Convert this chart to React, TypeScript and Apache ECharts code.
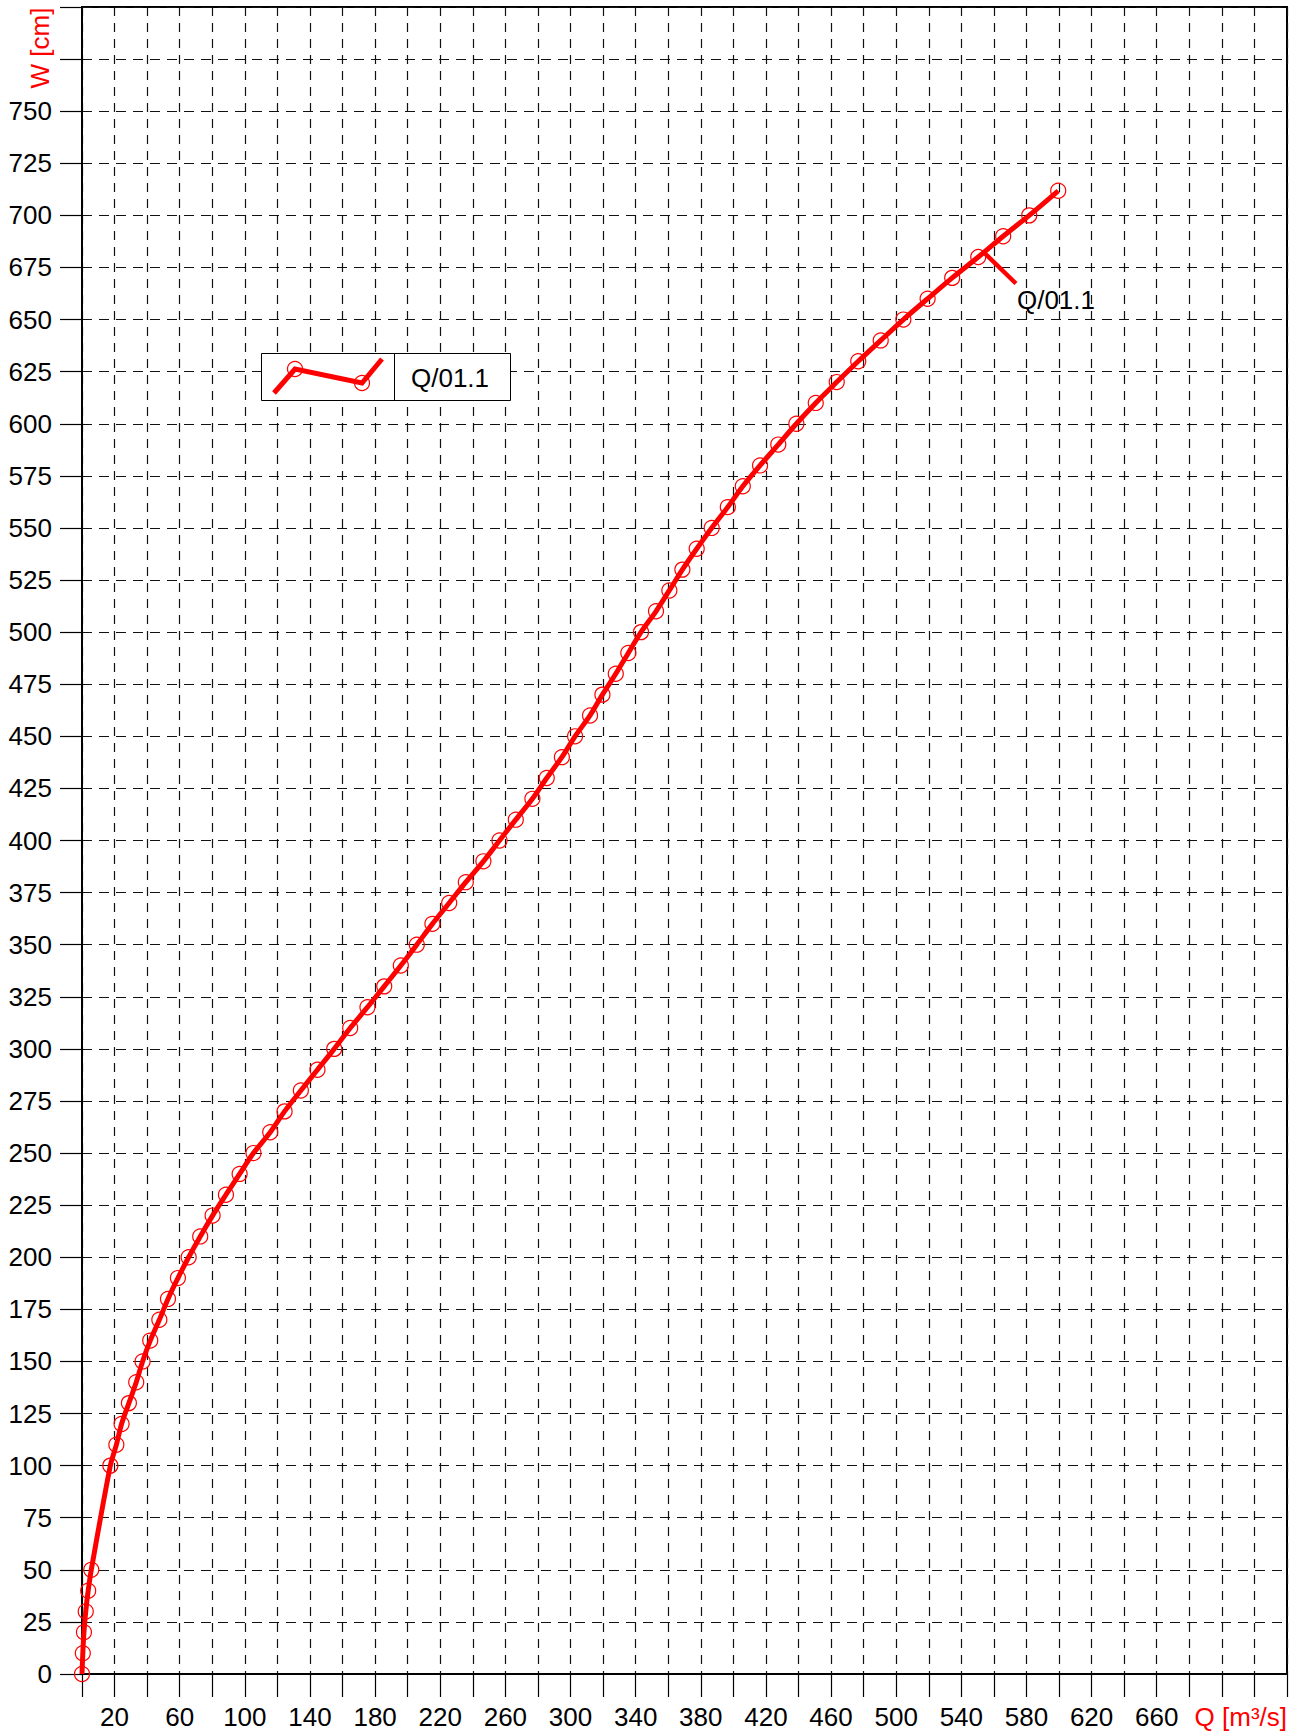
import React, { useEffect, useRef } from "react";
import * as echarts from "echarts";

// Rating curve Q/01.1 : discharge Q [m³/s] vs water level W [cm]
const seriesName = "Q/01.1";
const qValues = [
  0, 0.5, 1.2, 2.3, 3.8, 5.7,
  17.4, 21.1, 24.3, 28.8, 33.3, 37.2, 41.9, 47.5, 52.8, 58.9,
  65.5, 72.6, 80.2, 88.4, 96.8, 105.3, 115.6, 124.4, 134.4, 144.6,
  154.9, 164.7, 175.3, 185.6, 195.8, 205.6, 215.2, 225.5, 235.7, 246.5,
  256.4, 266.4, 276.6, 285.4, 294.7, 302.8, 312.0, 319.6, 327.8, 335.5,
  343.3, 352.5, 360.7, 368.7, 377.5, 386.7, 396.6, 405.8, 416.4, 427.6,
  438.7, 450.6, 463.5, 476.7, 490.5, 504.4, 519.3, 534.4, 550.4, 565.7,
  581.7, 599.5,
];
const wValues = [
  0, 10, 20, 30, 40, 50,
  100, 110, 120, 130, 140, 150, 160, 170, 180, 190,
  200, 210, 220, 230, 240, 250, 260, 270, 280, 290,
  300, 310, 320, 330, 340, 350, 360, 370, 380, 390,
  400, 410, 420, 430, 440, 450, 460, 470, 480, 490,
  500, 510, 520, 530, 540, 550, 560, 570, 580, 590,
  600, 610, 620, 630, 640, 650, 660, 670, 680, 690,
  700, 711.8,
];
// point on the curve where the annotation leader starts
const annotationQ = 554.5;
const annotationW = 681.7;

const xAxisName = "Q [m³/s]";
const yAxisName = "W [cm]";
const xMin = 0, xMax = 740, xStep = 20;
const yMin = 0, yMax = 800, yStep = 25;
const xLabelLast = 660;
const yLabelLast = 750;

const FONT = "'Liberation Sans', Arial, Helvetica, sans-serif";
const RED = "#ff0000";
const GRID_COLOR = "#111";

export default function App() {
  const ref = useRef<HTMLDivElement>(null);
  useEffect(() => {
    if (!ref.current) return;
    const chart = echarts.init(ref.current, null, { renderer: "svg" });
    const data = qValues.map((q, i) => [q, wValues[i]]);
    chart.setOption({
      animation: false,
      backgroundColor: "#fff",
      grid: {
        left: 82,
        top: 7,
        right: 15,
        bottom: 61,
        show: true,
        borderColor: "#000",
        borderWidth: 2,
        backgroundColor: "transparent",
      },
      xAxis: {
        type: "value",
        min: xMin,
        max: xMax,
        interval: xStep,
        axisLine: { show: true, lineStyle: { color: "#000", width: 2 } },
        axisTick: { show: true, length: 23, lineStyle: { color: "#000", width: 1.2 } },
        axisLabel: {
          margin: 30,
          color: "#000",
          fontSize: 26,
          fontFamily: FONT,
          formatter: (v: number) =>
            v % 40 === 20 && v <= xLabelLast ? String(v) : "",
        },
        splitLine: {
          show: true,
          lineStyle: { color: GRID_COLOR, width: 1.2, type: [9, 7] },
        },
      },
      yAxis: {
        type: "value",
        min: yMin,
        max: yMax,
        interval: yStep,
        axisLine: { show: true, lineStyle: { color: "#000", width: 2 } },
        axisTick: { show: true, length: 22, lineStyle: { color: "#000", width: 1.2 } },
        axisLabel: {
          margin: 30,
          color: "#000",
          fontSize: 26,
          fontFamily: FONT,
          formatter: (v: number) => (v <= yLabelLast ? String(v) : ""),
        },
        splitLine: {
          show: true,
          lineStyle: { color: GRID_COLOR, width: 1.2, type: [10, 7] },
        },
      },
      series: [
        {
          name: seriesName,
          type: "line",
          data,
          smooth: 0.3,
          symbol: "circle",
          symbolSize: 15,
          lineStyle: { color: RED, width: 5 },
          itemStyle: { color: "rgba(0,0,0,0)", borderColor: RED, borderWidth: 1.2 },
          z: 5,
        },
      ],
    });

    const p = chart.convertToPixel({ gridIndex: 0 }, [annotationQ, annotationW]) as number[];
    const axisY = chart.convertToPixel({ gridIndex: 0 }, [xMin, yMin]) as number[];
    const axisEnd = chart.convertToPixel({ gridIndex: 0 }, [xMax, yMax]) as number[];

    chart.setOption({
      graphic: [
        // y axis name
        {
          type: "text",
          x: 40,
          y: 48,
          rotation: Math.PI / 2,
          style: {
            text: yAxisName,
            fill: RED,
            font: `26px ${FONT}`,
            align: "center",
            verticalAlign: "middle",
          },
        },
        // x axis name
        {
          type: "text",
          x: axisEnd[0],
          y: axisY[1] + 30,
          style: {
            text: xAxisName,
            fill: RED,
            font: `26px ${FONT}`,
            align: "right",
            verticalAlign: "top",
          },
        },
        // legend box
        {
          type: "rect",
          shape: { x: 261.5, y: 353.5, width: 249, height: 47 },
          style: { fill: "#fff", stroke: "#000", lineWidth: 1 },
          z: 100,
        },
        {
          type: "line",
          shape: { x1: 394.5, y1: 353.5, x2: 394.5, y2: 400.5 },
          style: { stroke: "#000", lineWidth: 1 },
          z: 101,
        },
        {
          type: "polyline",
          shape: { points: [[274, 393], [295, 369], [362, 383], [382, 359]] },
          style: { stroke: RED, lineWidth: 5, fill: null },
          z: 101,
        },
        {
          type: "circle",
          shape: { cx: 295, cy: 369, r: 7.5 },
          style: { stroke: RED, lineWidth: 1.2, fill: null },
          z: 102,
        },
        {
          type: "circle",
          shape: { cx: 362, cy: 383, r: 7.5 },
          style: { stroke: RED, lineWidth: 1.2, fill: null },
          z: 102,
        },
        {
          type: "text",
          x: 411,
          y: 378,
          style: {
            text: seriesName,
            fill: "#000",
            font: `26px ${FONT}`,
            align: "left",
            verticalAlign: "middle",
          },
          z: 102,
        },
        // annotation leader + label
        {
          type: "line",
          shape: { x1: p[0], y1: p[1], x2: p[0] + 31, y2: p[1] + 30 },
          style: { stroke: RED, lineWidth: 4.5 },
          z: 50,
        },
        {
          type: "text",
          x: p[0] + 32,
          y: p[1] + 46,
          style: {
            text: seriesName,
            fill: "#000",
            font: `26px ${FONT}`,
            align: "left",
            verticalAlign: "middle",
          },
          z: 50,
        },
      ],
    });

    return () => chart.dispose();
  }, []);
  return (
    <div
      ref={ref}
      style={{ position: "absolute", left: 0, top: 0, width: 1302, height: 1735 }}
    />
  );
}
